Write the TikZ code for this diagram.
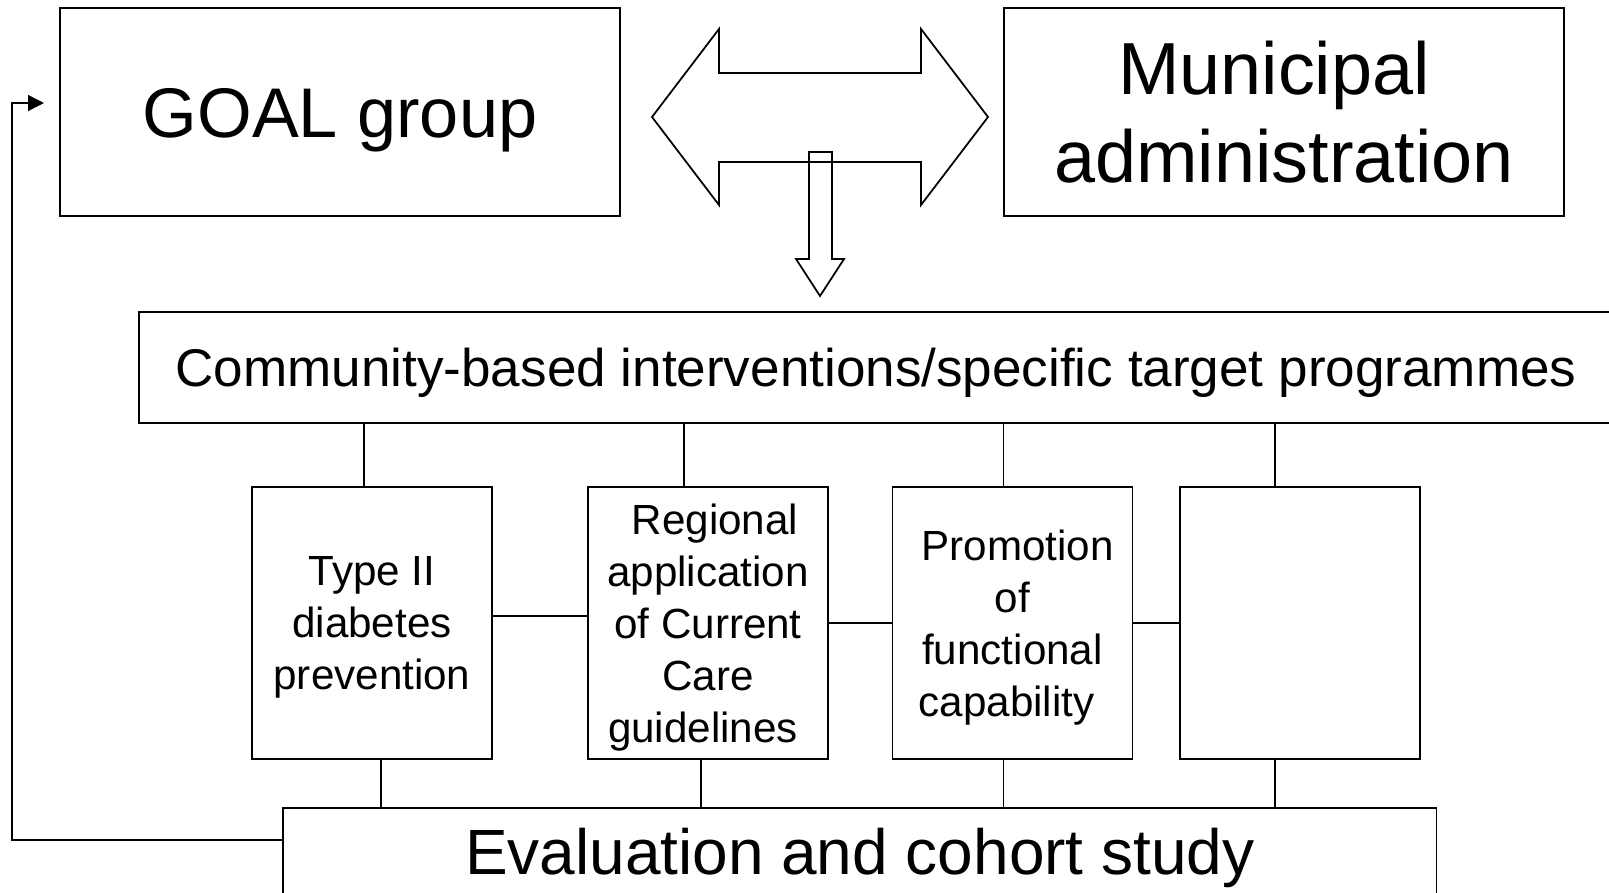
\documentclass[tikz,border=0pt]{standalone}
\usepackage{fontspec}
\setmainfont{Liberation Sans}
\usetikzlibrary{arrows.meta}

\begin{document}
\begin{tikzpicture}[
    box/.style={draw, line width=0.5pt, inner sep=0pt, align=center},
    small/.style={box, minimum width=2.40cm, minimum height=2.72cm, text depth=0pt, font=\fontsize{12pt}{14.8pt}\selectfont},
    link/.style={line width=0.4pt},
    >={Triangle[length=0.16cm, width=0.16cm]}
  ]
  \useasboundingbox (0,0) rectangle (16.09,-8.92);

  \node[box, minimum width=5.595cm, minimum height=2.073cm, text height=14.3pt, text depth=0pt, font=\fontsize{20pt}{24pt}\selectfont] (goal) at (3.40,-1.12) {GOAL group};
  \node[box, minimum width=5.605cm, minimum height=2.073cm, font=\fontsize{21pt}{25pt}\selectfont] (muni) at (12.84,-1.12) {Municipal\hspace*{0.2cm}\\administration};

  % block arrows
  \draw[line width=0.5pt] (6.52,-1.17) -- (7.19,-0.29) -- (7.19,-0.73) -- (9.21,-0.73) -- (9.21,-0.29) -- (9.88,-1.17)
    -- (9.21,-2.05) -- (9.21,-1.62) -- (7.19,-1.62) -- (7.19,-2.05) -- cycle;
  \draw[line width=0.5pt] (8.09,-1.52) -- (8.32,-1.52) -- (8.32,-2.59) -- (8.44,-2.59) -- (8.20,-2.96) -- (7.96,-2.59) -- (8.09,-2.59) -- cycle;

  \node[box, minimum width=14.74cm, minimum height=1.115cm, text height=10.8pt, text depth=0pt, font=\fontsize{15.1pt}{18pt}\selectfont] (comm) at (8.76,-3.675) {Community-based interventions/specific target programmes};

  \node[small] (t1) at (3.72,-6.23) {Type II\\diabetes\\prevention};
  \node[small] (t2) at (7.08,-6.23) {\hspace*{0.14cm}Regional\\application\\of Current\\Care\hspace*{0.24cm}\\guidelines\hspace*{0.1cm}};
  \node[small] (t3) at (10.125,-6.23) {\hspace*{0.1cm}Promotion\\of\\functional\hspace*{0.12cm}\\capability\hspace*{0.12cm}};
  \node[small] (t4) at (13.00,-6.23) {};

  \node[box, minimum width=11.535cm, minimum height=0.87cm, text height=13pt, text depth=0pt, font=\fontsize{18.2pt}{22pt}\selectfont] (eval) at (8.5975,-8.515) {Evaluation and cohort study};

  \draw[link] (comm.south -| 3.64,0) -- (t1.north -| 3.64,0);
  \draw[link] (comm.south -| 6.84,0) -- (t2.north -| 6.84,0);
  \draw[link] (comm.south -| 10.035,0) -- (t3.north -| 10.035,0);
  \draw[link] (comm.south -| 12.75,0) -- (t4.north -| 12.75,0);

  \draw[link] ([yshift=0.07cm]t1.east) -- ([yshift=0.07cm]t2.west);
  \draw[link] (t2.east) -- (t3.west);
  \draw[link] (t3.east) -- (t4.west);

  \draw[link] (t1.south -| 3.81,0) -- (eval.north -| 3.81,0);
  \draw[link] (t2.south -| 7.01,0) -- (eval.north -| 7.01,0);
  \draw[link] (t3.south -| 10.035,0) -- (eval.north -| 10.035,0);
  \draw[link] (t4.south -| 12.75,0) -- (eval.north -| 12.75,0);

  \coordinate (fb) at (0.12,-8.40);
  \coordinate (back) at (0.44,-1.03);
  \draw[link, ->] (eval.west |- fb) -- (fb) |- (back);
\end{tikzpicture}
\end{document}
